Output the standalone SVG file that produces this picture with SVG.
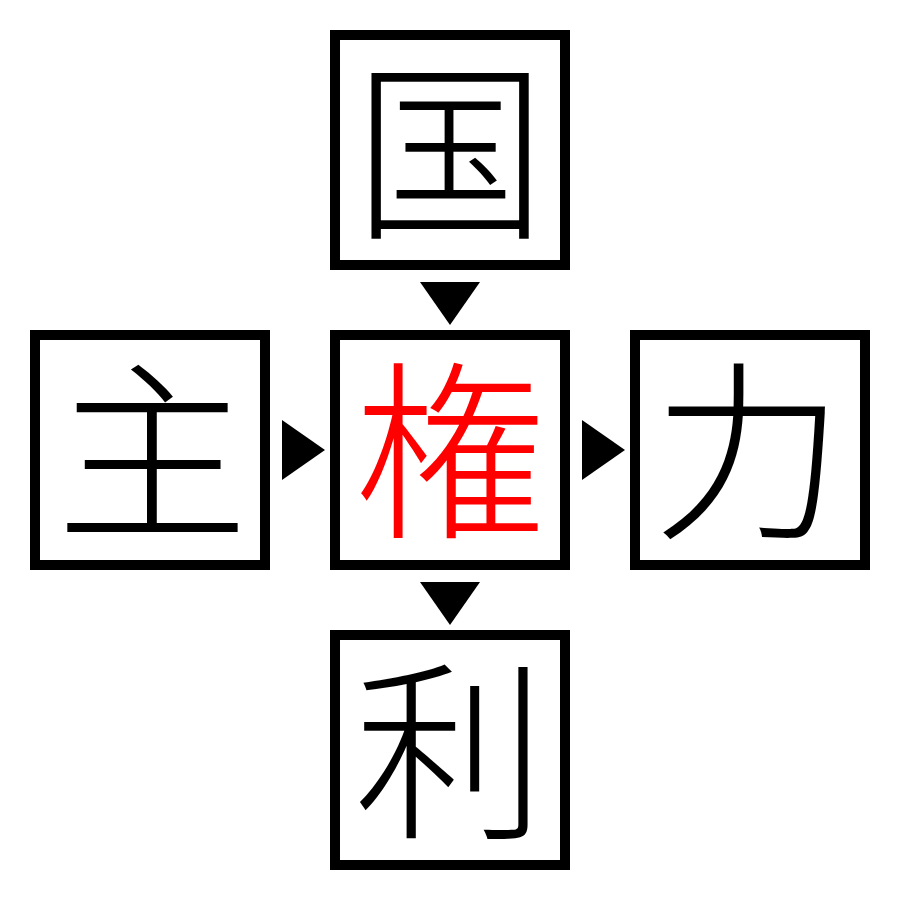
<svg xmlns="http://www.w3.org/2000/svg" width="900" height="900" viewBox="0 0 900 900">
<style>
.box{fill:#fff;stroke:#000;stroke-width:10}
.ch{font-family:"Noto Sans CJK JP","Noto Sans CJK SC",sans-serif;font-size:192px;text-anchor:middle;dominant-baseline:central;fill:#000;font-weight:300}
.red{fill:#ff0000}
.arr{fill:#000}
</style>
<rect x="0" y="0" width="900" height="900" fill="#fff"/>
<g id="connectors">
<polygon class="arr" points="420,282 480,282 450,325"/>
<polygon class="arr" points="420,582 480,582 450,625"/>
<polygon class="arr" points="282,420 325,450 282,480"/>
<polygon class="arr" points="582,420 625,450 582,480"/>
</g>
<g id="node-koku"><rect class="box" x="335" y="35" width="230" height="230"/><text class="ch" x="450" y="140">国</text></g>
<g id="node-shu"><rect class="box" x="35" y="335" width="230" height="230"/><text class="ch" x="152" y="440">主</text></g>
<g id="node-ken"><rect class="box" x="335" y="335" width="230" height="230"/><text class="ch red" x="450" y="440">権</text></g>
<g id="node-ryoku"><rect class="box" x="635" y="335" width="230" height="230"/><text class="ch" x="748" y="440">力</text></g>
<g id="node-ri"><rect class="box" x="335" y="635" width="230" height="230"/><text class="ch" x="450" y="740">利</text></g>
</svg>
